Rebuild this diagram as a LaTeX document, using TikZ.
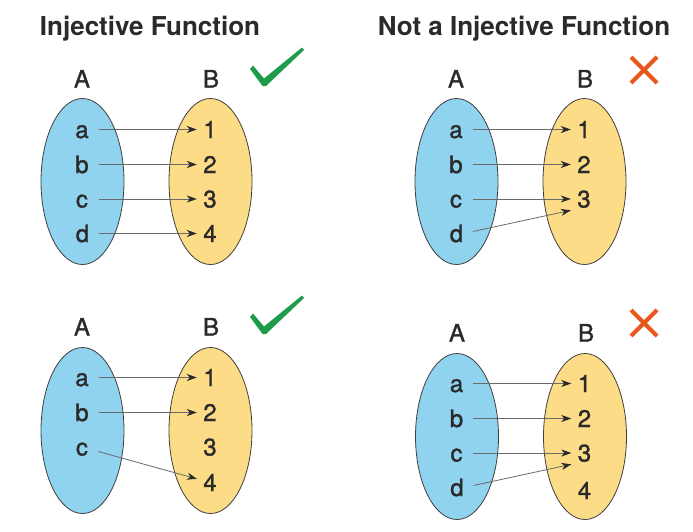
\documentclass[tikz,border=0pt]{standalone}
\usepackage{fontspec}
\setmainfont{TeX Gyre Heros}
\newfontfamily\lblfont[FakeBold=1.2]{TeX Gyre Heros}
\usetikzlibrary{shapes.geometric,arrows.meta}
\definecolor{setA}{HTML}{8FD3EF}
\definecolor{setB}{HTML}{FCDC86}
\definecolor{ink}{HTML}{2A2A2A}
\definecolor{okgreen}{HTML}{1F9B4B}
\definecolor{nogood}{HTML}{E8561C}
\begin{document}
\begin{tikzpicture}[x=1pt,y=-1pt,
  setshape/.style={ellipse, draw=ink!90, line width=0.8pt, minimum width=83pt, minimum height=166pt, inner sep=0pt},
  domainset/.style={setshape, fill=setA},
  codomainset/.style={setshape, fill=setB},
  lbl/.style={font=\lblfont\fontsize{24}{24}\selectfont, text=ink, text height=17pt, text depth=0pt, inner sep=0pt, minimum width=14pt, anchor=base},
  title/.style={font=\bfseries\fontsize{26}{26}\selectfont, text=ink, inner sep=0pt, anchor=base},
  mapto/.style={draw=ink!70, line width=0.8pt, -{Stealth[length=10pt,width=7pt,inset=3pt,color=ink]}, shorten <=9.5pt, shorten >=6pt},
  tick/.style={fill=okgreen, draw=none},
  cross/.style={draw=nogood, line width=4pt}
]
\fill[white] (0,0) rectangle (693,531);
\path[use as bounding box] (0,0) rectangle (693,531);

\node[title] (t1) at (150,35) {Injective Function};
\node[title] (t2) at (524,35) {Not a Injective Function};

% ---------- panel 1 ----------
\begin{scope}
\node[domainset] (pA) at (82.5,181.5) {};
\node[codomainset] (pB) at (210.5,181.5) {};
\node[lbl] (hA) at (82,87.5) {A};
\node[lbl] (hB) at (211,87.5) {B};
\node[lbl] (a) at (82,138) {a};
\node[lbl] (b) at (82,173) {b};
\node[lbl] (c) at (82,207.5) {c};
\node[lbl] (d) at (82.5,242) {d};
\node[lbl] (n1) at (210,138) {1};
\node[lbl] (n2) at (210,173) {2};
\node[lbl] (n3) at (210,207.5) {3};
\node[lbl] (n4) at (210,242) {4};
\draw[mapto] (a) -- (n1);
\draw[mapto] (b) -- (n2);
\draw[mapto] (c) -- (n3);
\draw[mapto] (d) -- (n4);
\fill[tick] (250,69) -- (253,65.5) -- (264,78.5) -- (302,47.5) -- (304,50) -- (266,86) -- (262.5,86) -- cycle;
\end{scope}

% ---------- panel 2 ----------
\begin{scope}[shift={(374,0)}]
\node[domainset] (qA) at (82.5,181.5) {};
\node[codomainset] (qB) at (210.5,181.5) {};
\node[lbl] (qhA) at (82,87.5) {A};
\node[lbl] (qhB) at (211,87.5) {B};
\node[lbl] (qa) at (82,138) {a};
\node[lbl] (qb) at (82,173) {b};
\node[lbl] (qc) at (82,207.5) {c};
\node[lbl] (qd) at (82.5,242) {d};
\node[lbl] (qn1) at (210,138) {1};
\node[lbl] (qn2) at (210,173) {2};
\node[lbl] (qn3) at (210,207.5) {3};
\draw[mapto] (qa) -- (qn1);
\draw[mapto] (qb) -- (qn2);
\draw[mapto] (qc) -- (qn3);
\draw[mapto] (qd.east) -- ([yshift=-10pt]qn3.west);
\coordinate (x1) at (257,57);
\coordinate (x2) at (283,83);
\coordinate (x3) at (257,83);
\coordinate (x4) at (283,57);
\draw[cross] (x1) -- (x2);
\draw[cross] (x3) -- (x4);
\end{scope}

% ---------- panel 3 ----------
\begin{scope}[shift={(0,248)}]
\node[domainset] (rA) at (82.5,182.5) {};
\node[codomainset] (rB) at (210.5,182.5) {};
\node[lbl] (rhA) at (82,87.5) {A};
\node[lbl] (rhB) at (211,87.5) {B};
\node[lbl] (ra) at (82,138) {a};
\node[lbl] (rb) at (82,173) {b};
\node[lbl] (rc) at (82,207.5) {c};
\node[lbl] (rn1) at (210,138) {1};
\node[lbl] (rn2) at (210,173) {2};
\node[lbl] (rn3) at (210,207.5) {3};
\node[lbl] (rn4) at (210,243) {4};
\draw[mapto] (ra) -- (rn1);
\draw[mapto] (rb) -- (rn2);
\draw[mapto] (rc) -- (rn4);
\fill[tick] (250,69) -- (253,65.5) -- (264,78.5) -- (302,47.5) -- (304,50) -- (266,86) -- (262.5,86) -- cycle;
\end{scope}

% ---------- panel 4 ----------
\begin{scope}[shift={(374,254)}]
\node[domainset] (sA) at (83,182.5) {};
\node[codomainset] (sB) at (211,182.5) {};
\node[lbl] (shA) at (83,87.5) {A};
\node[lbl] (shB) at (212,87.5) {B};
\node[lbl] (sa) at (82.5,138) {a};
\node[lbl] (sb) at (82.5,173) {b};
\node[lbl] (sc) at (82.5,207.5) {c};
\node[lbl] (sd) at (83,242) {d};
\node[lbl] (sn1) at (210.5,138) {1};
\node[lbl] (sn2) at (210.5,173) {2};
\node[lbl] (sn3) at (210.5,207.5) {3};
\node[lbl] (sn4) at (210.5,245) {4};
\draw[mapto] (sa) -- (sn1);
\draw[mapto] (sb) -- (sn2);
\draw[mapto] (sc) -- (sn3);
\draw[mapto] (sd.east) -- ([yshift=-10pt]sn3.west);
\coordinate (y1) at (257,56);
\coordinate (y2) at (283,82);
\coordinate (y3) at (257,82);
\coordinate (y4) at (283,56);
\draw[cross] (y1) -- (y2);
\draw[cross] (y3) -- (y4);
\end{scope}
\end{tikzpicture}
\end{document}
